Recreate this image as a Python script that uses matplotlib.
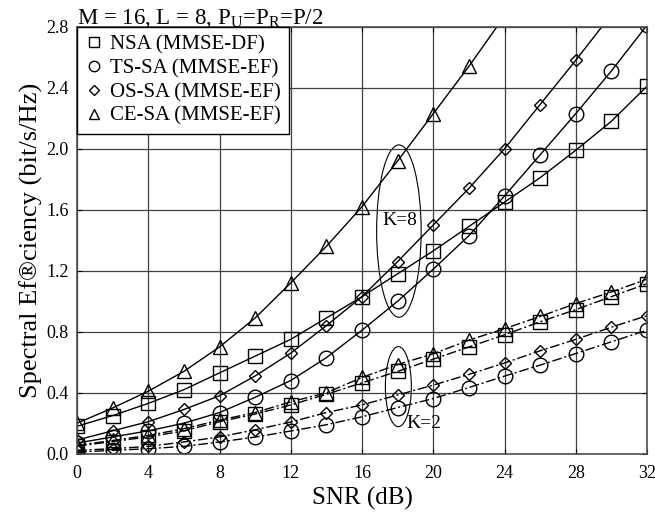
import numpy as np
import matplotlib
matplotlib.use("Agg")
import matplotlib.pyplot as plt
from matplotlib.lines import Line2D
from matplotlib.patches import Ellipse

plt.rcParams['font.family'] = 'serif'
plt.rcParams['font.serif'] = ['Liberation Serif', 'DejaVu Serif']
plt.rcParams['mathtext.fontset'] = 'custom'
plt.rcParams['mathtext.rm'] = 'Liberation Serif'
plt.rcParams['mathtext.it'] = 'Liberation Serif:italic'

snr = [0, 2, 4, 6, 8, 10, 12, 14, 16, 18, 20, 22, 24, 26, 28, 30, 32]

# K = 8 (solid)
nsa_k8 = [0.18, 0.25, 0.33, 0.42, 0.53, 0.64, 0.75, 0.89, 1.03, 1.18, 1.33, 1.49, 1.65, 1.81, 1.99, 2.18, 2.41]
ts_k8 = [0.07, 0.11, 0.15, 0.20, 0.27, 0.37, 0.48, 0.63, 0.81, 1.00, 1.21, 1.43, 1.69, 1.96, 2.23, 2.51, 2.81]
os_k8 = [0.09, 0.15, 0.21, 0.29, 0.38, 0.51, 0.66, 0.84, 1.03, 1.26, 1.50, 1.74, 2.00, 2.29, 2.58, 2.88, 3.20]
ce_k8 = [0.20, 0.30, 0.41, 0.54, 0.70, 0.89, 1.12, 1.36, 1.62, 1.92, 2.23, 2.54, 2.87, 3.20, 3.55, 3.90, 4.30]

# K = 2 (dash-dot)
nsa_k2 = [0.05, 0.08, 0.11, 0.15, 0.21, 0.26, 0.32, 0.39, 0.465, 0.54, 0.62, 0.70, 0.78, 0.865, 0.945, 1.03, 1.115]
ts_k2 = [0.011, 0.022, 0.033, 0.048, 0.077, 0.109, 0.149, 0.19, 0.242, 0.303, 0.362, 0.434, 0.509, 0.581, 0.657, 0.734, 0.81]
os_k2 = [0.022, 0.033, 0.048, 0.077, 0.11, 0.157, 0.208, 0.27, 0.32, 0.385, 0.45, 0.52, 0.595, 0.675, 0.75, 0.83, 0.905]
ce_k2 = [0.055, 0.087, 0.12, 0.164, 0.22, 0.27, 0.34, 0.40, 0.50, 0.585, 0.655, 0.745, 0.82, 0.90, 0.985, 1.06, 1.145]

labels = ['NSA (MMSE-DF)', 'TS-SA (MMSE-EF)', 'OS-SA (MMSE-EF)', 'CE-SA (MMSE-EF)']
markers = ['s', 'o', 'D', '^']
msizes = [10, 10.5, 6.5, 10]

fig = plt.figure(figsize=(6.55, 5.17), dpi=100)
ax = fig.add_axes([0.1176, 0.1224, 0.8702, 0.8259])

dashdot = (0, (7, 2, 1.5, 2))
for ys, m, s in zip([nsa_k8, ts_k8, os_k8, ce_k8], markers, msizes):
    ax.plot(snr, ys, color='k', lw=1.0, marker=m, ms=s, mfc='none', mec='k', mew=1.0)
for ys, m, s in zip([nsa_k2, ts_k2, os_k2, ce_k2], markers, msizes):
    ax.plot(snr, ys, color='k', lw=1.0, ls=dashdot, marker=m, ms=s, mfc='none', mec='k', mew=1.0)

ax.add_patch(Ellipse((18.07, 1.46), 2.5, 1.13, fill=False, ec='k', lw=0.8))
ax.add_patch(Ellipse((18.04, 0.44), 1.46, 0.525, fill=False, ec='k', lw=0.8))
ax.text(18.1, 1.53, 'K=8', ha='center', va='center', fontsize=14)
ax.text(18.5, 0.2, 'K=2', ha='left', va='center', fontsize=14)

ax.set_xlim(0, 32)
ax.set_ylim(0, 2.8)
ax.set_xticks(np.arange(0, 33, 4))
ax.set_yticks(np.arange(0, 2.81, 0.4))
ax.set_yticklabels(['%.1f' % v for v in np.arange(0, 2.81, 0.4)])
ax.grid(True, color='0.25', lw=0.9)
ax.tick_params(direction='in', top=True, right=True, labelsize=13, pad=6)
ax.tick_params(axis='x', pad=8)
for sp in ax.spines.values():
    sp.set_color('0.3')
    sp.set_linewidth(1.2)

ax.set_xlabel('SNR (dB)', fontsize=18, labelpad=4)
ax.set_ylabel('Spectral Ef\u00aeciency (bit/s/Hz)', fontsize=19, labelpad=2)
ax.set_title(r'M = 16, L = 8, P$_{\mathrm{U}}$=P$_{\mathrm{R}}$=P/2', loc='left', fontsize=16.5, pad=2)

handles = [Line2D([], [], ls='none', marker=m, ms=7.5, mfc='none', mec='k', mew=1.0) for m in ['s', 'o', 'D', '^']]
handles[2].set_markersize(5.5)
leg = ax.legend(handles, labels, loc='upper left', fontsize=15, frameon=True, fancybox=False,
                edgecolor='k', framealpha=1, borderaxespad=0, handlelength=0.8,
                handletextpad=0.4, labelspacing=0.2, borderpad=0.4)
leg.get_frame().set_linewidth(1.0)

fig.savefig('out.png', dpi=100)
